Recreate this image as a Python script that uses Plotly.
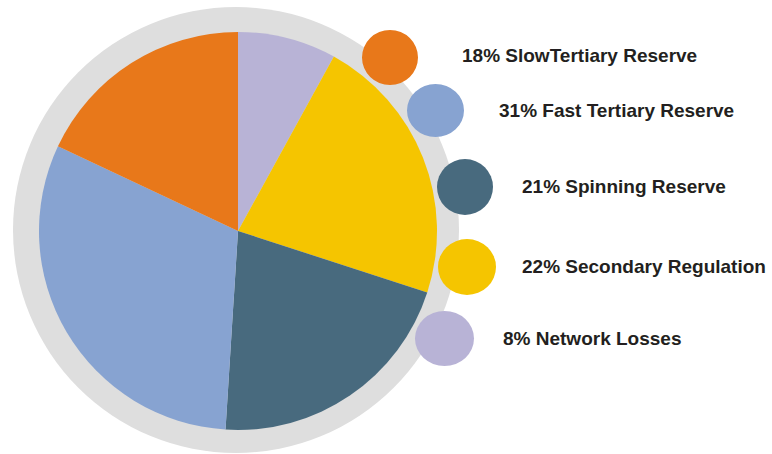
import plotly.graph_objects as go

# Pie data (clockwise from 12 o'clock)
labels = ["Network Losses", "Secondary Regulation", "Spinning Reserve",
          "Fast Tertiary Reserve", "SlowTertiary Reserve"]
values = [8, 22, 21, 31, 18]
colors = ["#B8B3D6", "#F5C500", "#486A7E", "#87A3D1", "#E8781A"]

# Legend order (top to bottom)
legend_labels = ["SlowTertiary Reserve", "Fast Tertiary Reserve", "Spinning Reserve",
                 "Secondary Regulation", "Network Losses"]

W, H = 772, 454

def px(x):
    return x / W

def py(y):
    return 1 - y / H

fig = go.Figure()
fig.add_trace(go.Pie(
    labels=labels, values=values, sort=False, direction="clockwise", rotation=0,
    marker=dict(colors=colors, line=dict(width=0)),
    textinfo="none", hoverinfo="label+percent", showlegend=False,
    domain=dict(x=[px(39), px(437)], y=[py(430), py(32)]),
))

shapes = [dict(type="circle", xref="paper", yref="paper", layer="below",
               x0=px(13), x1=px(459), y0=py(453), y1=py(7),
               fillcolor="#DEDEDE", line=dict(width=0))]

# legend marker geometry (layout)
mk_cx = [390, 435.5, 465, 467, 444.5]
mk_cy = [57.5, 110.5, 187, 267, 338.5]
mk_w = [56, 57, 56, 58, 59]
mk_h = [55, 53, 56, 56, 55]
tx_x = [460, 497, 520, 520, 501]
tx_y = [56, 110, 186, 266, 338]

color_of = dict(zip(labels, colors))
value_of = dict(zip(labels, values))
annotations = []
for i, lab in enumerate(legend_labels):
    shapes.append(dict(type="circle", xref="paper", yref="paper", layer="above",
                       x0=px(mk_cx[i] - mk_w[i] / 2), x1=px(mk_cx[i] + mk_w[i] / 2),
                       y0=py(mk_cy[i] + mk_h[i] / 2), y1=py(mk_cy[i] - mk_h[i] / 2),
                       fillcolor=color_of[lab], line=dict(width=0)))
    annotations.append(dict(xref="paper", yref="paper", x=px(tx_x[i]), y=py(tx_y[i]),
                            xanchor="left", yanchor="middle", showarrow=False,
                            text=f"<b>{value_of[lab]}% {lab}</b>",
                            font=dict(family="Liberation Sans, Arial", size=19, color="#231F20")))

fig.update_layout(width=W, height=H, margin=dict(l=0, r=0, t=0, b=0),
                  paper_bgcolor="white", plot_bgcolor="white",
                  shapes=shapes, annotations=annotations, showlegend=False)

fig.write_html("out.html", config={"displayModeBar": False},
               post_script="document.body.style.margin='0px';")
